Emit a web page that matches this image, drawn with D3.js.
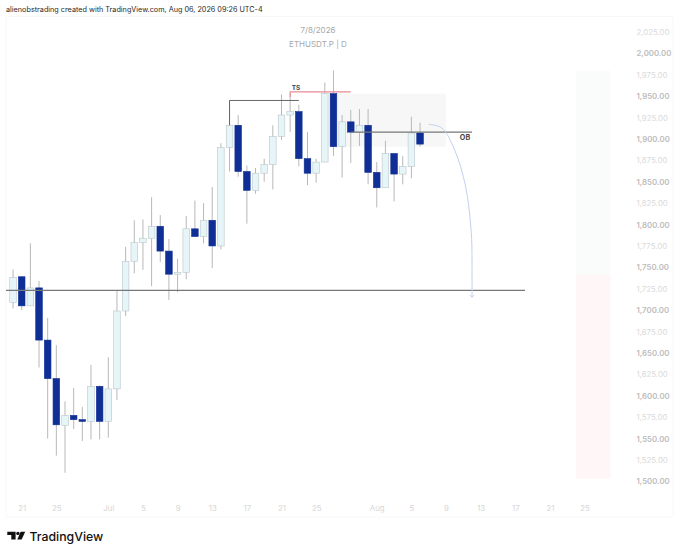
<!DOCTYPE html>
<html>
<head>
<meta charset="utf-8">
<style>
  html, body { margin: 0; padding: 0; background: #fff; }
  svg { display: block; font-family: Inter, "Liberation Sans", sans-serif; }
</style>
</head>
<body>
<svg id="chart" width="680" height="554"></svg>
<script src="https://cdn.jsdelivr.net/npm/d3@7"></script>
<script>
// daily bars, 48 of them starting at the first date
const firstBar = "2026-06-20";
const open  = [1709,1739,1705,1726,1665,1620,1565.5,1577,1572,1570,1611,1570,1608,1699,1757,1779,1784,1798,1769,1742,1744,1795,1786,1805,1775,1890,1916,1862,1840,1860,1870,1903,1928,1932,1877,1860,1873,1953,1891,1920,1908,1916,1861,1843,1883,1859,1868,1907];
const high  = [1747.5,1739,1778,1734,1691,1659,1593.5,1609,1587,1636,1612,1645,1723,1774,1805,1806,1832,1811,1783,1760,1810,1828,1825,1844,1895,1945,1928,1869,1866,1877,1916,1952,1953,1940,1908,1877,1966,1980,1928,1934,1935,1935,1873,1898,1883,1880,1926,1919];
const low   = [1702,1700,1705,1633,1550,1530,1510,1561,1547,1549,1549,1551,1595,1693,1743,1747,1728,1756,1712,1721,1736,1786,1778,1749,1771,1862,1856,1801,1836,1850,1841,1899,1908,1868,1846,1849,1873,1880,1855,1872,1892,1847,1820,1843,1827,1847,1854,1891];
const close = [1738,1705,1726,1665,1620,1566,1577,1572,1570,1611,1570,1608,1699,1757,1779,1784,1798,1769,1742,1744,1795,1786,1805,1775,1890,1916,1862,1840,1860,1870,1903,1928,1932,1877,1860,1873,1953,1891,1920,1908,1916,1861,1843,1883,1859,1868,1907,1894];

const priceTicks = d3.range(1500, 2026, 25);
const dateTicks = ["2026-06-21","2026-06-25","2026-07-01","2026-07-05","2026-07-09","2026-07-13","2026-07-17","2026-07-21","2026-07-25","2026-08-01","2026-08-05","2026-08-09","2026-08-13","2026-08-17","2026-08-21","2026-08-25"];

// drawings on the chart
const supportLevel = 1723;
const obLevel = 1908;
const swingLevel = 1945;
const tsLevel = 1955;
const arcDates = ["2026-08-07T00:00","2026-08-08T12:00","2026-08-10T00:00","2026-08-11T06:00","2026-08-11T22:00","2026-08-12T00:00","2026-08-12T00:00"];
const arcPrices = [1917,1913,1887,1845,1790,1740,1715];

const parse = d3.utcParse("%Y-%m-%dT%H:%M");
const day = s => d3.utcParse("%Y-%m-%d")(s);

const x = d3.scaleUtc()
  .domain([day("2026-06-21"), day("2026-08-25")])
  .range([21.7, 584.6]);
const y = d3.scaleLinear()
  .domain([1500, 2025])
  .range([481.3, 32]);

const svg = d3.select("#chart");
const bars = open.map((o, i) => ({
  date: d3.utcDay.offset(day(firstBar), i),
  open: o, high: high[i], low: low[i], close: close[i]
}));

// frame
svg.append("path")
  .attr("d", "M6,16.5H673V517H6Z")
  .attr("fill", "none")
  .attr("stroke", "#f8f8f8");

// watermark title
svg.append("text").attr("x", 318).attr("y", 32.5).attr("text-anchor", "middle")
  .attr("font-size", 8).attr("fill", "#a8a8a8").text("7/8/2026");
svg.append("text").attr("x", 318).attr("y", 46.5).attr("text-anchor", "middle")
  .attr("font-size", 8).attr("fill", "#a8a8a8").text("ETHUSDT.P | D");

svg.append("text").attr("x", 6).attr("y", 12)
  .attr("font-size", 7.25).attr("fill", "#2a2a2a")
  .text("alienobstrading created with TradingView.com, Aug 06, 2026 09:26 UTC-4");

// long / short boxes on the right
const boxLeft = x(day("2026-08-24")), boxRight = x(day("2026-08-28"));
svg.append("rect")
  .attr("x", boxLeft).attr("width", boxRight - boxLeft)
  .attr("y", y(1980)).attr("height", y(1741) - y(1980))
  .attr("fill", "#fafcfb");
svg.append("rect")
  .attr("x", boxLeft).attr("width", boxRight - boxLeft)
  .attr("y", y(1741)).attr("height", y(1503) - y(1741))
  .attr("fill", "#fff7f7");

// order block zone
svg.append("rect")
  .attr("x", x(day("2026-07-27"))).attr("width", x(day("2026-08-09")) - x(day("2026-07-27")))
  .attr("y", y(1953)).attr("height", y(1891) - y(1953))
  .attr("fill", "#f7f7f7");

// candles
const candle = svg.append("g").selectAll("g").data(bars).join("g");
candle.append("line")
  .attr("x1", d => x(d.date)).attr("x2", d => x(d.date))
  .attr("y1", d => y(d.high)).attr("y2", d => y(d.low))
  .attr("stroke", "#b8b8b8").attr("stroke-width", 1);
candle.append("rect")
  .attr("x", d => x(d.date) - 3.3)
  .attr("width", 6.6)
  .attr("y", d => y(Math.max(d.open, d.close)))
  .attr("height", d => Math.max(1, Math.abs(y(d.open) - y(d.close))))
  .attr("fill", d => d.close >= d.open ? "#e6f5f8" : "#0f2f96")
  .attr("stroke", d => d.close >= d.open ? "#bcc6c9" : "#0f2f96")
  .attr("stroke-width", 0.6);

// horizontal levels
svg.append("line")
  .attr("x1", 6).attr("x2", x(day("2026-08-18")) + 1)
  .attr("y1", y(supportLevel)).attr("y2", y(supportLevel))
  .attr("stroke", "#777").attr("stroke-width", 1.2);
svg.append("line")
  .attr("x1", x(day("2026-07-29"))).attr("x2", x(day("2026-08-12")))
  .attr("y1", y(obLevel)).attr("y2", y(obLevel))
  .attr("stroke", "#777").attr("stroke-width", 1.2);
svg.append("path")
  .attr("d", `M${x(day("2026-07-15"))},${y(1916)}V${y(swingLevel)}H${x(day("2026-07-23"))}`)
  .attr("fill", "none").attr("stroke", "#666").attr("stroke-width", 1);
svg.append("path")
  .attr("d", `M${x(day("2026-07-22"))},${y(1949)}V${y(tsLevel)}H${x(day("2026-07-29"))}`)
  .attr("fill", "none").attr("stroke", "#e88a94").attr("stroke-width", 1.1);

svg.append("text").attr("x", 296).attr("y", 89.5).attr("text-anchor", "middle")
  .attr("font-size", 6.5).attr("font-weight", 700).attr("fill", "#444").text("TS");
svg.append("text").attr("x", 465).attr("y", 140).attr("text-anchor", "middle")
  .attr("font-size", 7.2).attr("font-weight", 700).attr("fill", "#444").text("OB");

// projected move
const arc = d3.line()
  .x((d, i) => x(parse(arcDates[i])))
  .y(d => y(d))
  .curve(d3.curveCatmullRom);
svg.append("path")
  .attr("d", arc(arcPrices))
  .attr("fill", "none").attr("stroke", "#c3d0ee").attr("stroke-width", 1);
const tipX = x(parse(arcDates[arcDates.length - 1])), tipY = y(arcPrices[arcPrices.length - 1]);
svg.append("path")
  .attr("d", `M${tipX - 2.5},${tipY - 2.5}L${tipX},${tipY}L${tipX + 2.5},${tipY - 2.5}`)
  .attr("fill", "none").attr("stroke", "#c3d0ee").attr("stroke-width", 1);

// price axis, every other label is darker
const yAxis = svg.append("g")
  .attr("transform", "translate(636.5,0)")
  .call(d3.axisRight(y).tickValues(priceTicks).tickSize(0).tickPadding(0)
    .tickFormat(d3.format(",.2f")));
yAxis.select(".domain").remove();
yAxis.selectAll("text")
  .attr("font-family", "Inter, sans-serif")
  .attr("font-size", 7.8)
  .attr("font-weight", d => d % 50 === 0 ? 600 : 400)
  .attr("fill", d => d % 50 === 0 ? "#bcbcbc" : "#dadada");

// date axis
const xAxis = svg.append("g")
  .attr("transform", "translate(0,505.5)")
  .call(d3.axisBottom(x).tickValues(dateTicks.map(day)).tickSize(0).tickPadding(0)
    .tickFormat(d => d.getUTCDate() === 1 ? d3.utcFormat("%b")(d) : d.getUTCDate()));
xAxis.select(".domain").remove();
xAxis.selectAll("text")
  .attr("font-family", "Inter, sans-serif")
  .attr("font-size", 7.8)
  .attr("fill", "#d6d6d6");

// logo
const logo = svg.append("g").attr("fill", "#111");
logo.append("path").attr("d", "M7.3,531.7H15.6V539.4H11.3V535H7.3Z");
logo.append("circle").attr("cx", 17.9).attr("cy", 533.4).attr("r", 1.7);
logo.append("path").attr("d", "M20.6,531.7H25.2L21.6,539.4H17.3Z");
logo.append("text").attr("x", 29.5).attr("y", 540.6)
  .attr("font-size", 12.3).attr("font-weight", 500).text("TradingView");
</script>
</body>
</html>
